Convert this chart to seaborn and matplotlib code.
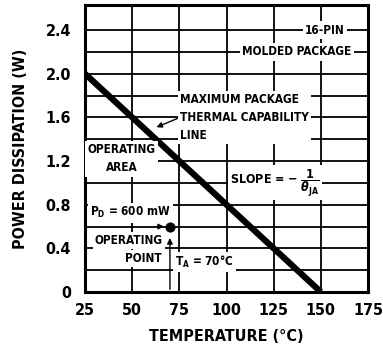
import matplotlib
matplotlib.use('Agg')
import matplotlib.pyplot as plt
import seaborn as sns
import pandas as pd

# thermal capability line and operating point
temp_line = [25, 150]
power_line = [2.0, 0.0]
op_temp = [70]
op_power = [0.6]

x_ticks = [25, 50, 75, 100, 125, 150, 175]
y_ticks = [0, 0.4, 0.8, 1.2, 1.6, 2.0, 2.4]
y_labels = ['0', '0.4', '0.8', '1.2', '1.6', '2.0', '2.4']
y_grid = [0.2, 0.6, 1.0, 1.4, 1.8, 2.2]

sns.set_theme(style='white')
plt.rcParams['font.family'] = ['DejaVu Sans']
plt.rcParams['font.stretch'] = 'condensed'
plt.rcParams['font.weight'] = 'bold'
plt.rcParams['text.color'] = 'black'
plt.rcParams['mathtext.fontset'] = 'custom'
plt.rcParams['mathtext.rm'] = 'DejaVu Sans:bold'
plt.rcParams['mathtext.it'] = 'DejaVu Sans:italic:bold'
plt.rcParams['mathtext.bf'] = 'DejaVu Sans:bold'

fig = plt.figure(figsize=(3.83, 3.57), dpi=100)
ax = fig.add_axes([0.222, 0.182, 0.739, 0.804])

line_df = pd.DataFrame({'temp': temp_line, 'power': power_line})
op_df = pd.DataFrame({'temp': op_temp, 'power': op_power})
sns.lineplot(data=line_df, x='temp', y='power', color='black', linewidth=4.5,
             solid_capstyle='butt', ax=ax, zorder=3)
sns.scatterplot(data=op_df, x='temp', y='power', color='black', s=45,
                edgecolor='black', ax=ax, zorder=5)

ax.set_xlim(25, 175)
ax.set_ylim(0, 2.63)
ax.set_xticks(x_ticks)
ax.set_yticks(y_ticks)
ax.set_yticklabels(y_labels)
ax.set_yticks(y_grid, minor=True)
ax.grid(True, which='both', color='black', linewidth=1.3, zorder=0)
ax.set_axisbelow(True)
ax.tick_params(axis='both', which='both', length=0, labelsize=11.5, colors='black')
ax.tick_params(axis='y', pad=10)
ax.tick_params(axis='x', pad=8)
for lab in ax.get_xticklabels() + ax.get_yticklabels():
    lab.set_fontweight('bold')
for sp in ax.spines.values():
    sp.set_color('black')
    sp.set_linewidth(2.2)

ax.set_xlabel('TEMPERATURE (°C)', fontsize=11.5, fontweight='bold', labelpad=8, color='black')
ax.set_ylabel('POWER DISSIPATION (W)', fontsize=11.5, fontweight='bold', labelpad=13, color='black')

box = dict(facecolor='white', edgecolor='none', pad=1.5)
fs = 8.5

ax.text(162.8, 2.4, '16-PIN', ha='right', va='center', fontsize=fs, bbox=box, zorder=4)
ax.text(166.3, 2.2, 'MOLDED PACKAGE', ha='right', va='center', fontsize=fs, bbox=box, zorder=4)
ax.text(75.3, 1.6, 'MAXIMUM PACKAGE\nTHERMAL CAPABILITY\nLINE', ha='left', va='center',
        fontsize=fs, linespacing=1.5, bbox=box, zorder=4)
ax.annotate('', xy=(61.5, 1.5), xytext=(75.3, 1.6),
            arrowprops=dict(arrowstyle='-|>', color='black', lw=1, mutation_scale=8), zorder=4)
ax.text(44.3, 1.22, 'OPERATING\nAREA', ha='center', va='center', fontsize=fs,
        linespacing=1.5, multialignment='center', bbox=box, zorder=4)
ax.text(102, 1.0, r'SLOPE = $-\;\dfrac{1}{\theta_{\mathrm{JA}}}$', ha='left', va='center',
        fontsize=fs + 0.5, bbox=box, zorder=4)
ax.text(27.6, 0.725, r'P$_{\mathrm{D}}$ = 600 mW', ha='left', va='center', fontsize=fs,
        bbox=box, zorder=4)
ax.annotate('', xy=(68.3, 0.6), xytext=(62, 0.6),
            arrowprops=dict(arrowstyle='-|>', color='black', lw=1, mutation_scale=8), zorder=4)
ax.text(48.3, 0.475, 'OPERATING', ha='center', va='center', fontsize=fs, bbox=box, zorder=4)
ax.text(65.8, 0.31, 'POINT', ha='right', va='center', fontsize=fs, bbox=box, zorder=4)
ax.annotate('', xy=(70, 0.52), xytext=(70, 0.0),
            arrowprops=dict(arrowstyle='-|>', color='black', lw=1, mutation_scale=8), zorder=4)
ax.text(72.7, 0.275, r'T$_{\mathrm{A}}$ = 70°C', ha='left', va='center', fontsize=fs,
        bbox=box, zorder=4)

fig.savefig('out.png', dpi=100)
